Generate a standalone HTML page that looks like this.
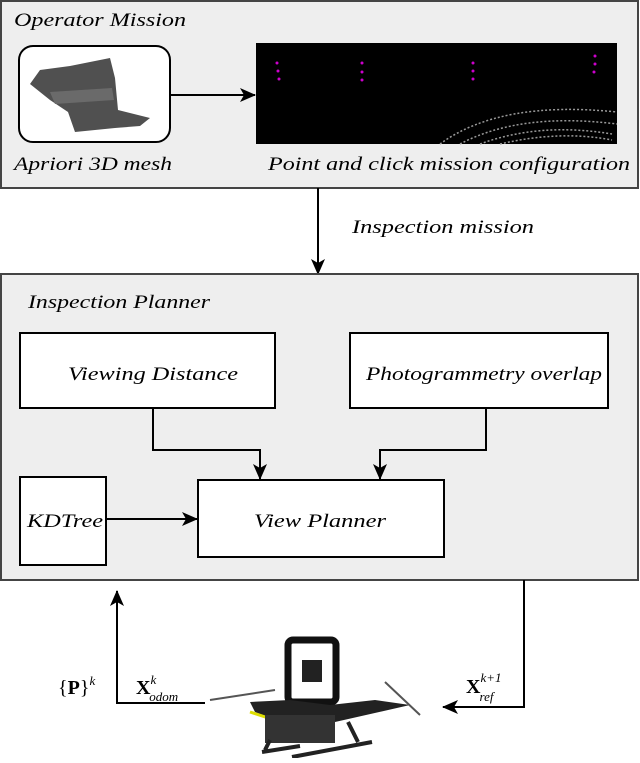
<!DOCTYPE html>
<html><head><meta charset="utf-8"><style>
body{margin:0;background:#fff;width:640px;height:758px;overflow:hidden}
</style></head><body>
<svg width="640" height="758" xmlns="http://www.w3.org/2000/svg" font-family="Liberation Serif, serif" font-style="italic" font-size="19">
<defs><marker id="a" markerWidth="16" markerHeight="14" refX="15" refY="7" orient="auto" markerUnits="userSpaceOnUse"><path d="M0,0 L16,7 L0,14 L4,7 Z" fill="#000"/></marker></defs>
<rect x="1" y="1" width="637" height="187" fill="#eeeeee" stroke="#444" stroke-width="2"/>
<text x="14" y="26" textLength="172" lengthAdjust="spacingAndGlyphs">Operator Mission</text>
<rect x="19" y="46" width="151" height="96" rx="14" fill="#fff" stroke="#000" stroke-width="2"/>
<path d="M30,84 L40,70 L70,66 L110,58 L115,78 L118,110 L150,118 L140,126 L115,128 L75,132 L68,112 L50,100 Z" fill="#505050"/>
<path d="M50,92 L112,88 L114,100 L55,104 Z" fill="#6a6a6a"/>
<line x1="170" y1="95" x2="255" y2="95" stroke="#000" stroke-width="2" marker-end="url(#a)"/>
<rect x="256" y="43" width="361" height="101" fill="#000"/>
<g fill="#c0c">
<circle cx="277" cy="63" r="1.5"/><circle cx="278" cy="71" r="1.5"/><circle cx="279" cy="79" r="1.5"/>
<circle cx="362" cy="63" r="1.5"/><circle cx="362" cy="72" r="1.5"/><circle cx="362" cy="80" r="1.5"/>
<circle cx="473" cy="63" r="1.5"/><circle cx="473" cy="71" r="1.5"/><circle cx="473" cy="79" r="1.5"/>
<circle cx="595" cy="56" r="1.5"/><circle cx="595" cy="64" r="1.5"/><circle cx="594" cy="72" r="1.5"/></g>
<path d="M440,144 Q500,100 617,112 M460,144 Q520,112 617,124 M480,144 Q540,122 612,134 M500,144 Q560,130 612,140" stroke="#999" stroke-width="1.5" fill="none" stroke-dasharray="2 2"/>
<text x="14" y="170" textLength="158" lengthAdjust="spacingAndGlyphs">Apriori 3D mesh</text>
<text x="268" y="170" textLength="362" lengthAdjust="spacingAndGlyphs">Point and click mission configuration</text>
<line x1="318" y1="188" x2="318" y2="274" stroke="#000" stroke-width="2" marker-end="url(#a)"/>
<text x="352" y="233" textLength="182" lengthAdjust="spacingAndGlyphs">Inspection mission</text>
<rect x="1" y="274" width="637" height="306" fill="#eeeeee" stroke="#444" stroke-width="2"/>
<text x="28" y="308" textLength="182" lengthAdjust="spacingAndGlyphs">Inspection Planner</text>
<rect x="20" y="333" width="255" height="75" fill="#fff" stroke="#000" stroke-width="2"/>
<text x="68" y="380" textLength="170" lengthAdjust="spacingAndGlyphs">Viewing Distance</text>
<rect x="350" y="333" width="258" height="75" fill="#fff" stroke="#000" stroke-width="2"/>
<text x="366" y="380" textLength="236" lengthAdjust="spacingAndGlyphs">Photogrammetry overlap</text>
<rect x="20" y="477" width="86" height="88" fill="#fff" stroke="#000" stroke-width="2"/>
<text x="27" y="527" textLength="76" lengthAdjust="spacingAndGlyphs">KDTree</text>
<rect x="198" y="480" width="246" height="77" fill="#fff" stroke="#000" stroke-width="2"/>
<text x="254" y="527" textLength="132" lengthAdjust="spacingAndGlyphs">View Planner</text>
<path d="M153,408 V450 H260 V479" stroke="#000" stroke-width="2" fill="none" marker-end="url(#a)"/>
<path d="M486,408 V450 H380 V479" stroke="#000" stroke-width="2" fill="none" marker-end="url(#a)"/>
<line x1="106" y1="519" x2="197" y2="519" stroke="#000" stroke-width="2" marker-end="url(#a)"/>
<path d="M524,580 V707 H443" stroke="#000" stroke-width="2" fill="none" marker-end="url(#a)"/>
<path d="M205,703 H117 V591" stroke="#000" stroke-width="2" fill="none" marker-end="url(#a)"/>
<g font-style="normal" font-size="20">
<text x="58" y="694">{<tspan font-weight="bold">P</tspan>}<tspan font-size="13" font-style="italic" dy="-9">k</tspan></text>
<text x="136" y="694" font-weight="bold">X<tspan font-size="13" font-style="italic" font-weight="normal" dy="-10">k</tspan><tspan font-size="13" font-style="italic" font-weight="normal" dx="-7" dy="17">odom</tspan></text>
<text x="466" y="693" font-weight="bold">X<tspan font-size="13" font-style="italic" font-weight="normal" dy="-11">k+1</tspan><tspan font-size="13" font-style="italic" font-weight="normal" dx="-22" dy="19">ref</tspan></text>
</g>
<g>
<rect x="288" y="640" width="48" height="62" rx="5" fill="none" stroke="#111" stroke-width="7"/>
<rect x="302" y="660" width="20" height="22" fill="#222"/>
<path d="M250,702 L290,700 L330,705 L375,700 L410,705 L335,722 L290,725 L255,712 Z" fill="#222"/>
<path d="M210,700 L275,690 M385,682 L420,715" stroke="#555" stroke-width="2"/>
<path d="M250,712 L305,730" stroke="#dd0" stroke-width="3"/>
<rect x="265" y="715" width="70" height="28" fill="#333"/>
<path d="M270,740 L265,750 M348,722 L358,742 M262,752 L300,746 M292,757 L372,742" stroke="#222" stroke-width="4"/>
</g>
</svg>
</body></html>
